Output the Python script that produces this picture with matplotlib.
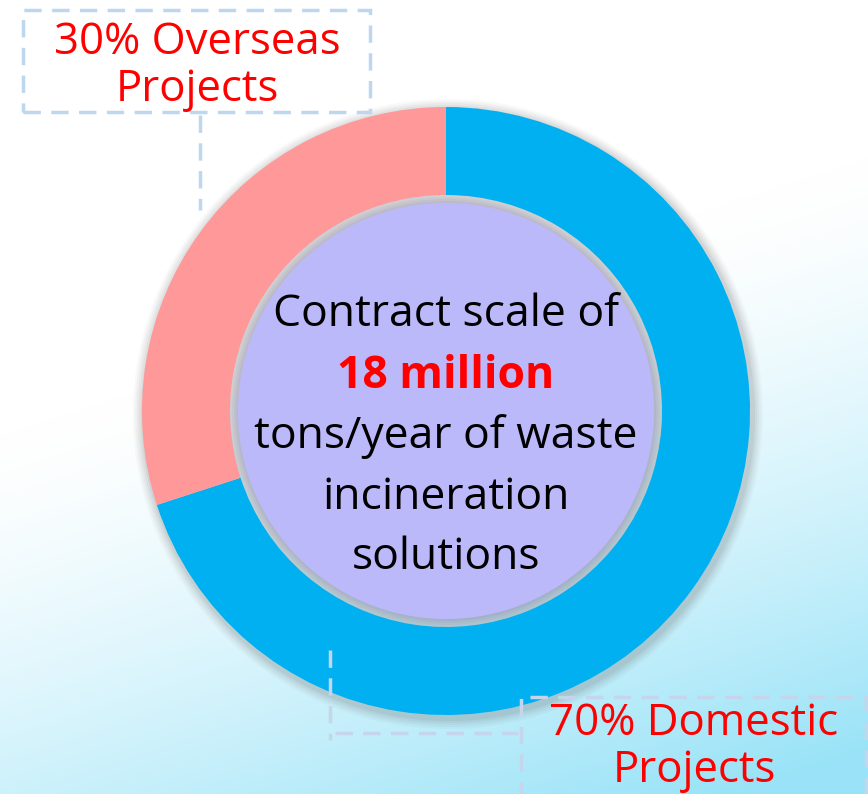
import numpy as np
import matplotlib
matplotlib.use("Agg")
import matplotlib.pyplot as plt
from matplotlib.patches import Circle, Rectangle

# ---- data ----
categories = ["Domestic Projects", "Overseas Projects"]
shares = [70, 30]
colors = ["#00B0F0", "#FE9899"]
label_texts = ["70% Domestic\nProjects", "30% Overseas\nProjects"]
center_lines = ["Contract scale of", "18 million", "tons/year of waste", "incineration", "solutions"]

W, H = 868, 794
FONT = "Open Sans"

fig = plt.figure(figsize=(W / 100, H / 100), dpi=100)
ax = fig.add_axes([0, 0, 1, 1])
ax.set_xlim(0, W)
ax.set_ylim(0, H)
ax.set_aspect("equal")
ax.axis("off")

def Y(y):
    return H - y

# background gradient (white top -> light cyan bottom-right)
gx, gy = np.meshgrid(np.linspace(0, 1, 300), np.linspace(0, 1, 300))  # gy: 0 top, 1 bottom
t = (0.35 * gx + 1.0 * gy) - 0.55
t = np.clip(t / 0.75, 0, 1) ** 1.4
c0 = np.array([1.0, 1.0, 1.0])
c1 = np.array([0.60, 0.89, 0.97])
img = c0[None, None, :] * (1 - t[..., None]) + c1[None, None, :] * t[..., None]
ax.imshow(img, extent=[0, W, 0, H], origin="upper", zorder=0, aspect="auto")

cx, cy = 446, 411
R_out, R_in = 304, 216

# soft shadow around the ring
for i, a in enumerate([0.04, 0.05, 0.06, 0.07, 0.09]):
    ax.add_patch(Circle((cx + 2, Y(cy + 3)), R_out + 11 - 2 * i, color="#6a6a6a",
                        alpha=a, lw=0, zorder=1))

ax.pie(shares, colors=colors, startangle=90, counterclock=False,
       radius=R_out, center=(cx, Y(cy)), frame=True,
       wedgeprops=dict(width=R_out - R_in, linewidth=0))
ax.set_xlim(0, W)
ax.set_ylim(0, H)
ax.axis("off")

# inner disc with soft edge shadow
for i, a in enumerate([0.07, 0.08, 0.09, 0.10]):
    ax.add_patch(Circle((cx, Y(cy)), R_in - 2 * i, color="#8581b5", alpha=a, lw=0, zorder=3))
ax.add_patch(Circle((cx, Y(cy)), R_in - 8, color="#BCB9FA", lw=0, zorder=4))

# center text
line_y = [315, 376, 437, 498, 558]
for i, (txt, yy) in enumerate(zip(center_lines, line_y)):
    bold = i == 1
    ax.text(cx, Y(yy), txt, ha="center", va="center", fontsize=32,
            family=FONT, fontweight="bold" if bold else "normal",
            color="#FF0000" if bold else "black", zorder=5)

dash_col = "#BDD7EE"
# overseas label box
ax.add_patch(Rectangle((23, Y(112)), 347, 102, fill=False, ec=dash_col, lw=2.5,
                       ls=(0, (5, 3)), zorder=5))
ax.text(197, Y(66), label_texts[1], ha="center", va="center", fontsize=31.5,
        family=FONT, color="#FF0000", linespacing=1.08, zorder=6)
ax.plot([200, 200], [Y(115), Y(210)], color=dash_col, lw=2.5, ls=(0, (5, 3)), zorder=5)

# domestic label box
ax.add_patch(Rectangle((521, Y(815)), 345, 118, fill=False, ec="#C5D5EC", lw=2.5,
                       ls=(0, (5, 3)), zorder=5))
ax.text(694, Y(747), label_texts[0], ha="center", va="center", fontsize=31.5,
        family=FONT, color="#FF0000", linespacing=1.08, zorder=6)
ax.plot([330, 330], [Y(650), Y(740)], color="#C5D5EC", lw=2.5, ls=(0, (5, 3)), zorder=5)
ax.plot([335, 518], [Y(733), Y(733)], color="#C5D5EC", lw=2.5, ls=(0, (5, 3)), zorder=5)

fig.savefig("out.png", dpi=100)
